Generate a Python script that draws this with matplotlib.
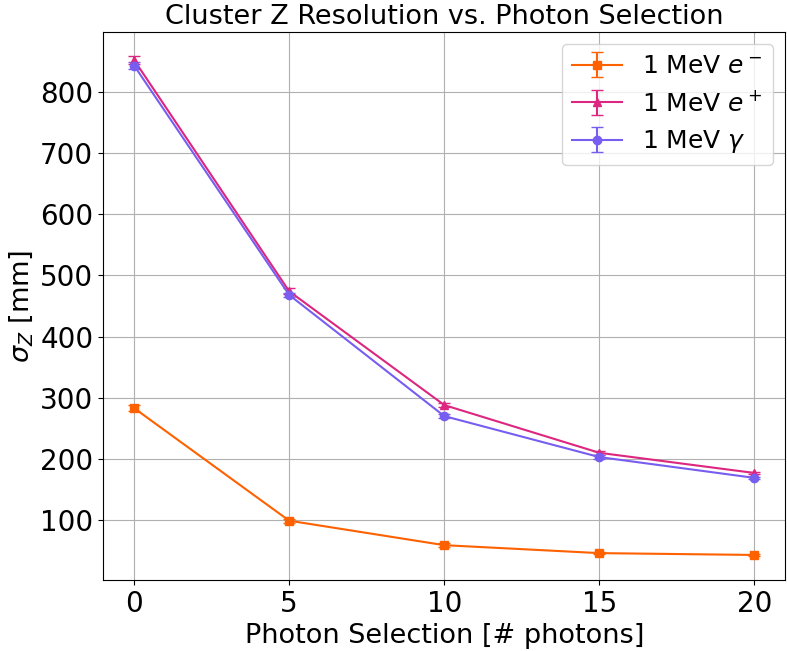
import numpy as np
import matplotlib.pyplot as plt

# IBM colorblind-safe palette
COLOR = {'em': '#FE6100', 'ep': '#DC267F', 'gamma': '#785EF0'}

photons = [0, 5, 10, 15, 20]

sigma_em = [283, 99, 59, 46, 43]
err_em = [5, 3, 3, 2, 2]

sigma_ep = [852, 474, 288, 210, 177]
err_ep = [7, 5, 3, 3, 2]

sigma_gamma = [843, 468, 270, 203, 169]
err_gamma = [6, 4, 3, 3, 2]

yticks = [100, 200, 300, 400, 500, 600, 700, 800]

font_size = 19.5
plt.rcParams.update({'axes.labelsize': font_size,
                     'axes.titlesize': font_size,
                     'font.size': font_size,
                     'legend.fontsize': 18,
                     'xtick.labelsize': 20,
                     'ytick.labelsize': 20})

fig, ax = plt.subplots(figsize=(7.87, 6.51), dpi=100)
fig.subplots_adjust(left=0.131, right=0.998, top=0.951, bottom=0.109)

ax.errorbar(photons, sigma_em, yerr=err_em, marker='s', color=COLOR['em'],
            capsize=4, label=r'1 MeV $e^-$')
ax.errorbar(photons, sigma_ep, yerr=err_ep, marker='^', color=COLOR['ep'],
            capsize=4, label=r'1 MeV $e^+$')
ax.errorbar(photons, sigma_gamma, yerr=err_gamma, marker='o', color=COLOR['gamma'],
            capsize=4, label=r'1 MeV $\gamma$')

ax.set_xticks(photons)
ax.set_yticks(yticks)
ax.set_ylim(2, 898)
ax.set_xlabel('Photon Selection [# photons]')
ax.set_ylabel(r'$\sigma_Z$ [mm]')
ax.set_title('Cluster Z Resolution vs. Photon Selection')
ax.grid(True, color='#b0b0b0')
ax.legend(loc='upper right')

fig.savefig('out.png', dpi=100)
